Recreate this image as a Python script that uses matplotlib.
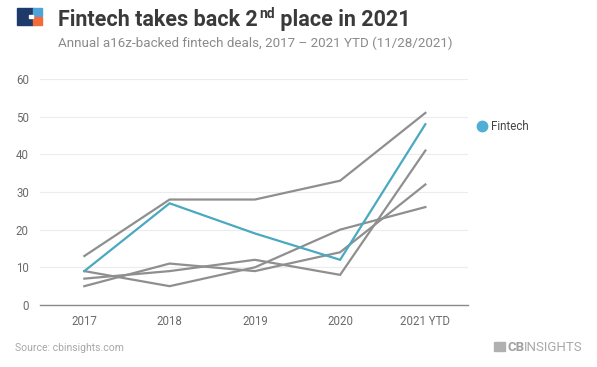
import matplotlib
matplotlib.use("Agg")
import matplotlib.pyplot as plt
from matplotlib.patches import Rectangle
from matplotlib.lines import Line2D

years = ["2017", "2018", "2019", "2020", "2021 YTD"]
fintech = [9, 27, 19, 12, 48]
other_a = [13, 28, 28, 33, 51]
other_b = [5, 11, 9, 14, 32]
other_c = [7, 9, 12, 8, 41]
other_d = [9, 5, 10, 20, 26]
y_ticks = [0, 10, 20, 30, 40, 50, 60]

teal = "#4aa9c0"
gray = "#8f8f8f"

plt.rcParams["font.family"] = ["Roboto", "DejaVu Sans"]

fig = plt.figure(figsize=(5.97, 3.67), dpi=100)
ax = fig.add_axes([40 / 597, 1 - 305 / 367, 428 / 597, 226 / 367])

x = list(range(len(years)))
for series in [other_a, other_b, other_c, other_d]:
    ax.plot(x, series, color=gray, lw=1.6, solid_joinstyle="miter", zorder=2)
ax.plot(x, fintech, color=teal, lw=1.6, solid_joinstyle="miter", zorder=3)

ax.set_xlim(-0.52, 4.5)
ax.set_ylim(0, 60)
ax.set_yticks(y_ticks)
ax.set_xticks(x)
ax.set_xticklabels(years)
ax.tick_params(axis="both", length=0, labelsize=8.3, colors="#6b6b6b")
ax.tick_params(axis="y", pad=8)
ax.tick_params(axis="x", pad=7)
ax.grid(axis="y", color="#ececec", lw=0.8)
ax.set_axisbelow(True)
for side in ["top", "right", "left"]:
    ax.spines[side].set_visible(False)
ax.spines["bottom"].set_color("#8a8a8a")
ax.spines["bottom"].set_linewidth(1.0)

# legend
fig.lines.append(Line2D([482 / 597], [1 - 126 / 367], marker="o", markersize=7.5,
                        color="#4fb0d3", linestyle="none",
                        transform=fig.transFigure, figure=fig))
fig.text(491 / 597, 1 - 126 / 367, "Fintech", fontsize=8.3, color="#444444",
         va="center", ha="left")

# logo
def rect(x0, y0, w, h, c):
    fig.patches.append(Rectangle((x0 / 597, 1 - (y0 + h) / 367), w / 597, h / 367,
                                 color=c, transform=fig.transFigure, figure=fig))

rect(17, 8, 16, 17, "#1d3a6b")
rect(33, 8, 9, 8, "#4fa3d8")
rect(33, 17, 9, 8, "#f26b3a")
rect(29, 15, 4, 3, "#ffffff")

# title with superscript
fig.canvas.draw()
r = fig.canvas.get_renderer()
ty = 1 - 26 / 367
t1 = fig.text(58 / 597, ty, "Fintech takes back 2", fontsize=15.5, fontweight="bold",
              color="#3a3a3a", va="baseline")
bb = t1.get_window_extent(r)
t2 = fig.text(bb.x1 / 597 + 0.002, ty + 0.022, "nd", fontsize=10, fontweight="bold",
              color="#3a3a3a", va="baseline")
bb2 = t2.get_window_extent(r)
fig.text(bb2.x1 / 597, ty, " place in 2021", fontsize=15.5, fontweight="bold",
         color="#3a3a3a", va="baseline")

fig.text(58 / 597, 1 - 47 / 367,
         "Annual a16z-backed fintech deals, 2017 \u2013 2021 YTD (11/28/2021)",
         fontsize=9.6, color="#8a8a8a", va="baseline")

fig.text(15 / 597, 1 - 351 / 367, "Source: cbinsights.com", fontsize=7.5,
         color="#a8a8a8", va="baseline")

rect(494, 342, 11, 9, "#b0b0b0")
cb = fig.text(507 / 597, 1 - 351 / 367, "CB", fontsize=9.5, fontweight="bold",
              color="#a0a0a0", va="baseline")
bb3 = cb.get_window_extent(r)
fig.text(bb3.x1 / 597, 1 - 351 / 367, "INSIGHTS", fontsize=9.5, color="#a8a8a8",
         va="baseline")

fig.savefig("out.png", dpi=100)
